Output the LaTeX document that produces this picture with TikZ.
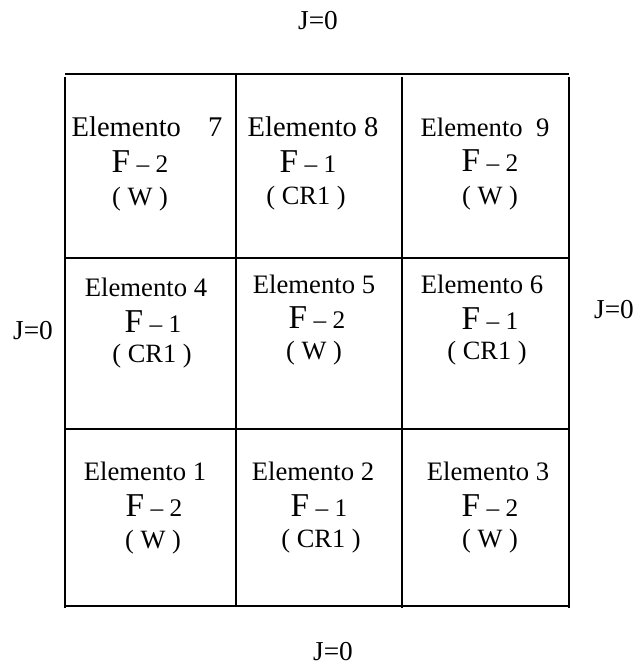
\documentclass[tikz,border=0pt]{standalone}
\usepackage{fontspec}
\setmainfont{Liberation Serif}
\newcommand{\bigF}{\fontsize{25}{30}\selectfont F}

\begin{document}
\begin{tikzpicture}[x=0.75pt, y=-0.75pt, line width=1.2pt,
		elem/.style={anchor=base, inner sep=0pt, font=\fontsize{20}{24}\selectfont},
		elembig/.style={elem, font=\fontsize{21.4}{26}\selectfont},
		fase/.style={anchor=base, inner sep=0pt, font=\fontsize{19}{23}\selectfont},
		mat/.style={fase, font=\fontsize{19.8}{24}\selectfont},
		borde/.style={anchor=base, inner sep=0pt, font=\fontsize{20.5}{24}\selectfont}]
	\useasboundingbox (0,0) rectangle (635,666);
	% the 3x3 mesh
	\foreach \y in {74,258,429,606}
		\draw (65,\y) -- (569,\y);
	\draw (236,74) -- (236,606);
	\foreach \x in {65,402,569}
		\draw (\x,77) -- (\x,608);
	% element names
	\foreach \n/\x/\y/\t/\s in {%
		7/147/137/{Elemento\hspace{0.95em}7}/elembig,
		8/313/137/{Elemento 8}/elembig,
		9/485/137/{Elemento\ \ 9}/elem,
		4/146/296/{Elemento 4}/elem,
		5/314/293/{Elemento 5}/elem,
		6/482/293/{Elemento 6}/elem,
		1/145/480/{Elemento 1}/elem,
		2/313/480/{Elemento 2}/elem,
		3/488/480/{Elemento 3}/elem} {
		\node[\s] (e\n) at (\x,\y) {\t};
	}
	% face number and material
	\foreach \n/\fx/\fy/\px/\py/\f/\m in {%
		7/140/173/140/206/2/W,
		8/308/173/306/205/1/CR1,
		9/490/172/490/205/2/W,
		4/153/332/152/362/1/CR1,
		5/317/328/314/359/2/W,
		6/490/329/487/359/1/CR1,
		1/154/516/153/548/2/W,
		2/319/516/321/547/1/CR1,
		3/490/516/490/547/2/W} {
		\node[fase] (f\n) at (\fx,\fy) {{\bigF} -- \f};
		\node[mat] (m\n) at (\px,\py) {( \m\ )};
	}
	% boundary conditions
	\node[borde] (jtop) at (318,30) {J=0};
	\node[borde] (jleft) at (33,339) {J=0};
	\node[borde] (jright) at (614,318) {J=0};
	\node[borde] (jbot) at (333,660) {J=0};
\end{tikzpicture}
\end{document}
